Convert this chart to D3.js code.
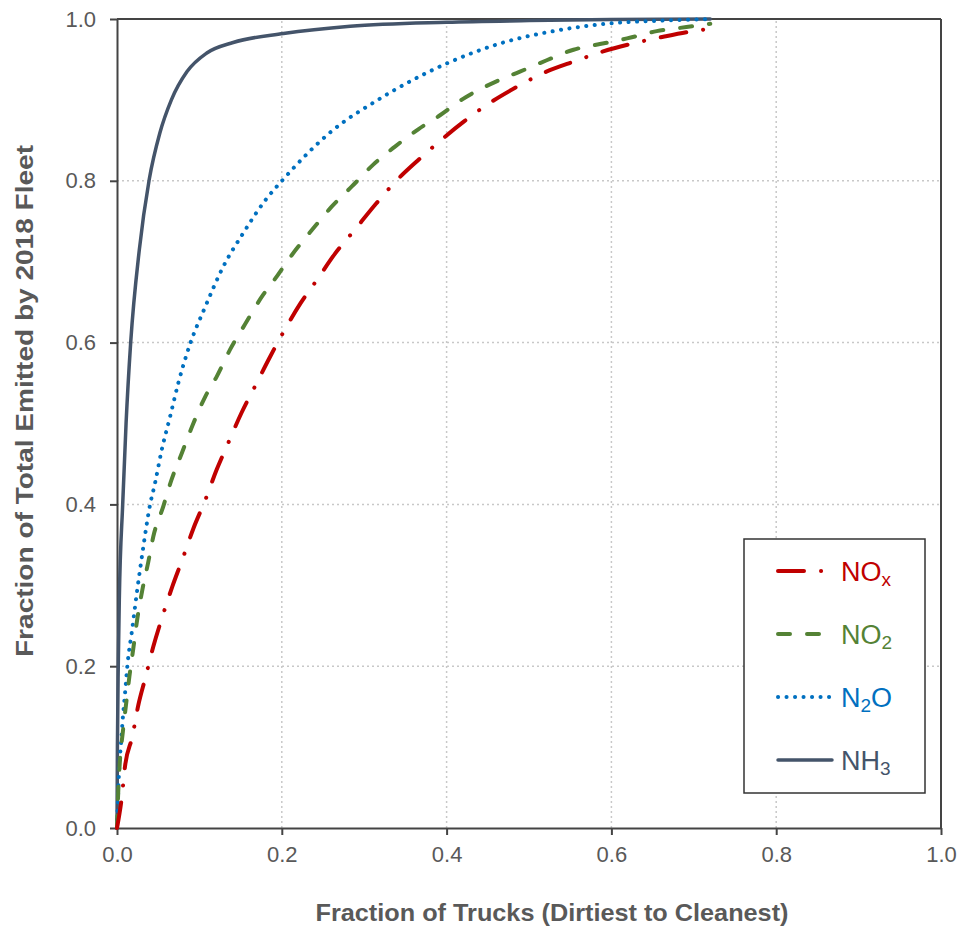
<!DOCTYPE html>
<html>
<head>
<meta charset="utf-8">
<script src="https://cdn.jsdelivr.net/npm/d3@7"></script>
<style>
  body { margin: 0; background: #fff; }
  svg { display: block; font-family: "Liberation Sans", Arial, Helvetica, sans-serif; }
  .axis path, .axis line { stroke: #444; stroke-width: 2; }
  .axis text { fill: #595959; font-size: 22px; }
  .grid line { stroke: #c8c8c8; stroke-width: 1.5; stroke-dasharray: 2 3; }
  .title { fill: #595959; font-size: 24px; font-weight: bold; }
</style>
</head>
<body>
<svg id="chart" width="964" height="932"></svg>
<script>
const ticks = [0, 0.2, 0.4, 0.6, 0.8, 1.0];
const gridTicks = [0.2, 0.4, 0.6, 0.8];

// fraction of trucks (x) vs cumulative fraction emitted (y)
const noxX = [0, 0.0057, 0.0097, 0.0186, 0.0259, 0.0348, 0.044, 0.055, 0.067, 0.0797, 0.0926, 0.107, 0.121, 0.135, 0.151, 0.1675, 0.185, 0.202, 0.223, 0.243, 0.2646, 0.289, 0.313, 0.337, 0.366, 0.394, 0.422, 0.452, 0.485, 0.519, 0.556, 0.590, 0.627, 0.663, 0.699, 0.72];
const noxY = [0, 0.037, 0.076, 0.113, 0.152, 0.187, 0.224, 0.261, 0.298, 0.333, 0.370, 0.405, 0.443, 0.476, 0.513, 0.546, 0.581, 0.613, 0.649, 0.678, 0.710, 0.740, 0.770, 0.798, 0.826, 0.851, 0.874, 0.896, 0.916, 0.934, 0.948, 0.960, 0.970, 0.978, 0.985, 0.988];

const no2X = [0, 0.0016, 0.0036, 0.0069, 0.0109, 0.0150, 0.0198, 0.0247, 0.0307, 0.038, 0.044, 0.056, 0.066, 0.0785, 0.0926, 0.107, 0.121, 0.137, 0.155, 0.176, 0.192, 0.212, 0.238, 0.2605, 0.285, 0.311, 0.337, 0.366, 0.392, 0.418, 0.465, 0.489, 0.5215, 0.554, 0.586, 0.619, 0.655, 0.691, 0.72];
const no2Y = [0, 0.047, 0.084, 0.117, 0.152, 0.187, 0.222, 0.259, 0.294, 0.329, 0.360, 0.397, 0.430, 0.463, 0.500, 0.533, 0.558, 0.591, 0.622, 0.657, 0.679, 0.708, 0.741, 0.768, 0.793, 0.820, 0.842, 0.864, 0.881, 0.900, 0.925, 0.935, 0.949, 0.962, 0.969, 0.976, 0.985, 0.990, 0.994];

const n2oX = [0, 0.0016, 0.0028, 0.0049, 0.0069, 0.0097, 0.013, 0.0178, 0.024, 0.032, 0.040, 0.0461, 0.0542, 0.0643, 0.0744, 0.0886, 0.107, 0.129, 0.153, 0.180, 0.201, 0.2625, 0.315, 0.40, 0.469, 0.5295, 0.600, 0.66, 0.72];
const n2oY = [0, 0.047, 0.076, 0.105, 0.134, 0.166, 0.205, 0.241, 0.290, 0.348, 0.399, 0.426, 0.467, 0.508, 0.550, 0.598, 0.644, 0.694, 0.735, 0.776, 0.801, 0.863, 0.899, 0.945, 0.971, 0.985, 0.9947, 0.998, 1.0];

const nh3X = [0, 0.0005, 0.0016, 0.0028, 0.0069, 0.011, 0.0166, 0.027, 0.039, 0.052, 0.066, 0.085, 0.109, 0.141, 0.202, 0.283, 0.40, 0.50, 0.60, 0.72];
const nh3Y = [0, 0.10, 0.205, 0.282, 0.40, 0.50, 0.60, 0.714, 0.801, 0.859, 0.900, 0.935, 0.958, 0.971, 0.982, 0.991, 0.996, 0.998, 0.9995, 1.0];

const zip = (xs, ys) => xs.map((v, i) => [v, ys[i]]);

// drawing order: NH3 underneath, NOx on top
const series = [
  { name: 'NH3', main: 'NH', sub: '3', tail: '', color: '#44546a', dash: null, width: 3.5, pts: zip(nh3X, nh3Y) },
  { name: 'N2O', main: 'N', sub: '2', tail: 'O', color: '#0070c0', dash: '0.1 8.4', width: 4, pts: zip(n2oX, n2oY) },
  { name: 'NO2', main: 'NO', sub: '2', tail: '', color: '#548235', dash: '12 17', width: 4, pts: zip(no2X, no2Y) },
  { name: 'NOx', main: 'NO', sub: 'x', tail: '', color: '#c00000', dash: '26 17 0.1 17', width: 4, pts: zip(noxX, noxY) }
];
const legendOrder = ['NOx', 'NO2', 'N2O', 'NH3'];

const svg = d3.select('#chart');
const plotLeft = 117, plotRight = 941, plotTop = 19, plotBottom = 828;

const x = d3.scaleLinear().domain([0, 1]).range([plotLeft, plotRight]);
const y = d3.scaleLinear().domain([0, 1]).range([plotBottom, plotTop]);

// gridlines
const grid = svg.append('g').attr('class', 'grid');
grid.selectAll('.gx').data(gridTicks).join('line')
  .attr('class', 'gx')
  .attr('x1', d => x(d)).attr('x2', d => x(d))
  .attr('y1', y(0)).attr('y2', y(1));
grid.selectAll('.gy').data(gridTicks).join('line')
  .attr('class', 'gy')
  .attr('y1', d => y(d)).attr('y2', d => y(d))
  .attr('x1', x(0)).attr('x2', x(1));

// frame: top and right
svg.append('line')
  .attr('x1', x(0)).attr('x2', x(1)).attr('y1', y(1)).attr('y2', y(1))
  .attr('stroke', '#444').attr('stroke-width', 2);
svg.append('line')
  .attr('x1', x(1)).attr('x2', x(1)).attr('y1', y(1)).attr('y2', y(0))
  .attr('stroke', '#444').attr('stroke-width', 2);

// axes
svg.append('g')
  .attr('class', 'axis')
  .attr('transform', `translate(0,${plotBottom})`)
  .call(d3.axisBottom(x).tickValues(ticks).tickFormat(d3.format('.1f'))
    .tickSize(7).tickSizeOuter(0).tickPadding(11));

svg.append('g')
  .attr('class', 'axis')
  .attr('transform', `translate(${plotLeft},0)`)
  .call(d3.axisLeft(y).tickValues(ticks).tickFormat(d3.format('.1f'))
    .tickSize(7).tickSizeOuter(0).tickPadding(14));

// curves
const line = d3.line()
  .x(d => x(d[0]))
  .y(d => y(d[1]))
  .curve(d3.curveMonotoneX);

svg.append('g').selectAll('path').data(series).join('path')
  .attr('d', d => line(d.pts))
  .attr('fill', 'none')
  .attr('stroke', d => d.color)
  .attr('stroke-width', d => d.width)
  .attr('stroke-dasharray', d => d.dash)
  .attr('stroke-linecap', 'round')
  .attr('stroke-linejoin', 'round');

// legend
const legend = svg.append('g').attr('transform', 'translate(744,539)');
legend.append('rect')
  .attr('width', 181).attr('height', 254)
  .attr('fill', '#fff').attr('stroke', '#333').attr('stroke-width', 1.5);

const rows = legend.selectAll('.row')
  .data(legendOrder.map(n => series.find(s => s.name === n)))
  .join('g')
  .attr('class', 'row')
  .attr('transform', (d, i) => `translate(0,${32 + i * 63})`);

rows.append('line')
  .attr('x1', 34).attr('x2', 88)
  .attr('stroke', d => d.color)
  .attr('stroke-width', d => d.width)
  .attr('stroke-dasharray', d => d.dash)
  .attr('stroke-linecap', 'round');

const label = rows.append('text')
  .attr('x', 97).attr('y', 10)
  .attr('fill', d => d.color)
  .style('font-size', '27px');
label.append('tspan').text(d => d.main);
label.append('tspan').attr('dy', 5).style('font-size', '19px').text(d => d.sub);
label.append('tspan').attr('dy', -5).text(d => d.tail);

// axis titles
svg.append('text')
  .attr('class', 'title')
  .attr('x', 552).attr('y', 921)
  .attr('text-anchor', 'middle')
  .attr('textLength', 473).attr('lengthAdjust', 'spacingAndGlyphs')
  .text('Fraction of Trucks (Dirtiest to Cleanest)');

svg.append('text')
  .attr('class', 'title')
  .attr('transform', 'translate(33,401) rotate(-90)')
  .attr('text-anchor', 'middle')
  .attr('textLength', 512).attr('lengthAdjust', 'spacingAndGlyphs')
  .text('Fraction of Total Emitted by 2018 Fleet');
</script>
</body>
</html>
